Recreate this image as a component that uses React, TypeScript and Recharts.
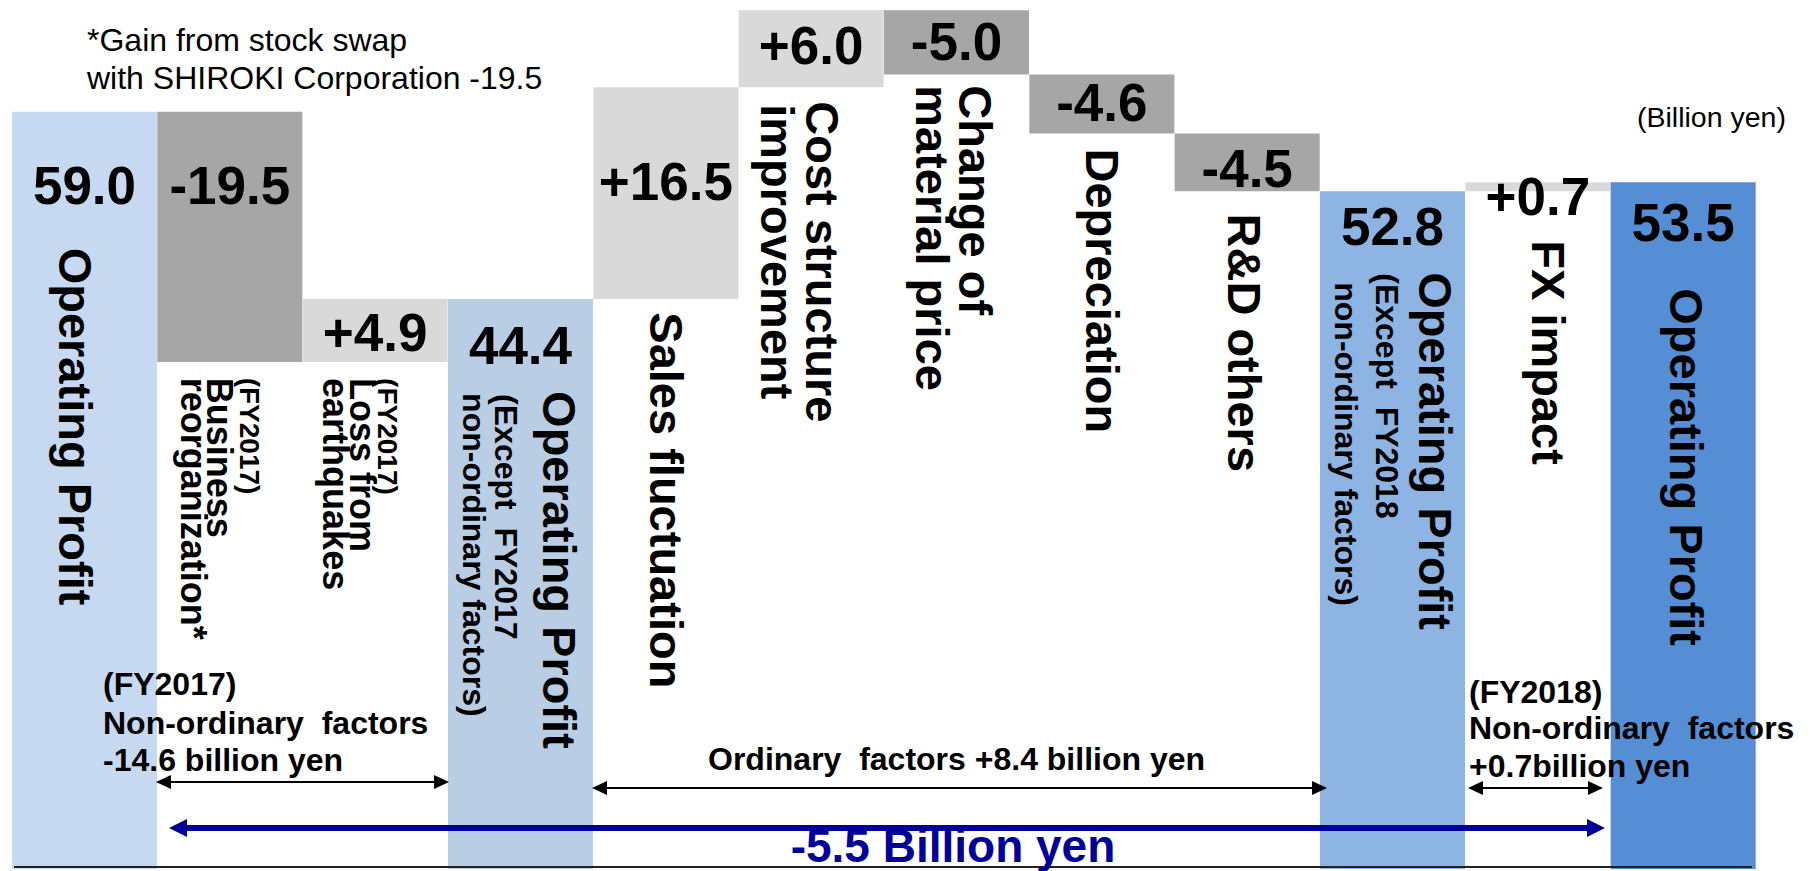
import React from 'react';
import { BarChart, Bar, XAxis, YAxis, Cell, LabelList } from 'recharts';

const categories = [
  'Operating Profit (FY2017)',
  'Business reorganization',
  'Loss from earthquakes',
  'Operating Profit (Except FY2017 non-ordinary factors)',
  'Sales fluctuation',
  'Cost structure improvement',
  'Change of material price',
  'Depreciation',
  'R&D others',
  'Operating Profit (Except FY2018 non-ordinary factors)',
  'FX impact',
  'Operating Profit (FY2018)',
];

const values = [59.0, -19.5, 4.9, 44.4, 16.5, 6.0, -5.0, -4.6, -4.5, 52.8, 0.7, 53.5];
const isTotal = [true, false, false, true, false, false, false, false, false, true, false, true];
const valueLabels = ['59.0', '-19.5', '+4.9', '44.4', '+16.5', '+6.0', '-5.0', '-4.6', '-4.5', '52.8', '+0.7', '53.5'];

const categoryLines: string[][] = [
  ['Operating Profit'],
  ['(FY2017)', 'Business', 'reorganization*'],
  ['(FY2017)', 'Loss from', 'earthquakes'],
  ['Operating Profit', '(Except  FY2017', 'non-ordinary factors)'],
  ['Sales fluctuation'],
  ['Cost structure', 'improvement'],
  ['Change of', 'material price'],
  ['Depreciation'],
  ['R&D others'],
  ['Operating Profit', '(Except  FY2018', 'non-ordinary factors)'],
  ['FX impact'],
  ['Operating Profit'],
];

const barColors = ['#c6d9f1', '#a6a6a6', '#d9d9d9', '#b9cde5', '#d9d9d9', '#d9d9d9', '#a6a6a6', '#a6a6a6', '#a6a6a6', '#8eb4e3', '#d9d9d9', '#558ed5'];

// label layout (offsets from the bar rectangle)
const valueDy = [92, 92, 52, 65, 113, 54, 50, 47, 54, 54, 33, 59];
const lineSize = [[47], [28, 36, 36], [28, 36, 36], [47, 32, 32], [47], [47, 47], [47, 47], [47], [47], [47, 32, 32], [47], [47]];
const lineDx = [[47], [83, 50, 24], [75, 47, 20], [95, 47, 15], [57], [67, 22], [75, 32], [57], [53], [99, 56, 15], [67], [59]];
const lineDy = [[136], [266, 266, 266], [79, 79, 79], [92, 95, 94], [225], [91, 94], [75, 75], [74], [80], [81, 82, 91], [58], [106]];

const FONT = '"Liberation Sans", Arial, sans-serif';
const BLUE = '#000099';

let running = 0;
const data = categories.map((name, i) => {
  const v = values[i];
  let base = 0;
  let delta = v;
  if (isTotal[i]) {
    running = v;
  } else {
    const next = running + v;
    base = Math.min(running, next);
    delta = Math.abs(v);
    running = next;
  }
  return { name, base, delta, label: valueLabels[i] };
});

const box = (props: any) => {
  const vb = props.viewBox || props;
  return { x: Number(vb.x), y: Number(vb.y), width: Number(vb.width) };
};

const renderValue = (props: any) => {
  const { x, y, width } = box(props);
  const i = props.index;
  return (
    <text x={x + width / 2} y={y + valueDy[i]} textAnchor="middle" fontSize={53} fontWeight="bold" fontFamily={FONT} fill="#000">
      {valueLabels[i]}
    </text>
  );
};

const renderCategory = (props: any) => {
  const { x, y } = box(props);
  const i = props.index;
  return (
    <g>
      {categoryLines[i].map((t, k) => (
        <text
          key={k}
          transform={`translate(${x + lineDx[i][k]},${y + lineDy[i][k]}) rotate(90)`}
          fontSize={lineSize[i][k]}
          fontWeight="bold"
          fontFamily={FONT}
          fill="#000"
          xmlSpace="preserve"
          style={{ whiteSpace: 'pre' }}
        >
          {t}
        </text>
      ))}
    </g>
  );
};

const DoubleArrow = ({ x1, x2, y, color, stroke, headL, headW }: any) => (
  <g>
    <line x1={x1 + headL - 1} x2={x2 - headL + 1} y1={y} y2={y} stroke={color} strokeWidth={stroke} />
    <polygon points={`${x1},${y} ${x1 + headL},${y - headW / 2} ${x1 + headL},${y + headW / 2}`} fill={color} />
    <polygon points={`${x2},${y} ${x2 - headL},${y - headW / 2} ${x2 - headL},${y + headW / 2}`} fill={color} />
  </g>
);

const Note = ({ children, ...rest }: any) => (
  <text xmlSpace="preserve" style={{ whiteSpace: 'pre' }} {...rest}>
    {children}
  </text>
);

const Overlay = () => (
  <svg width={1810} height={871} style={{ position: 'absolute', left: 0, top: 0, pointerEvents: 'none' }}>
    <g fontFamily={FONT}>
      <Note x={87} y={51} fontSize={32}>*Gain from stock swap</Note>
      <Note x={87} y={89} fontSize={32}>with SHIROKI Corporation -19.5</Note>
      <Note x={1637} y={127} fontSize={28.5}>(Billion yen)</Note>

      <g fontSize={32} fontWeight="bold">
        <Note x={103} y={695}>(FY2017)</Note>
        <Note x={103} y={734}>Non-ordinary  factors</Note>
        <Note x={103} y={771}>-14.6 billion yen</Note>
        <Note x={708} y={770}>Ordinary  factors +8.4 billion yen</Note>
        <Note x={1469} y={703}>(FY2018)</Note>
        <Note x={1469} y={739}>Non-ordinary  factors</Note>
        <Note x={1469} y={777}>+0.7billion yen</Note>
      </g>

      <DoubleArrow x1={156} x2={449} y={782} color="#000" stroke={2} headL={15} headW={14} />
      <DoubleArrow x1={592} x2={1327} y={788} color="#000" stroke={2} headL={15} headW={14} />
      <DoubleArrow x1={1468} x2={1603} y={788} color="#000" stroke={2} headL={15} headW={14} />
      <DoubleArrow x1={169} x2={1605} y={828} color={BLUE} stroke={6} headL={18} headW={18} />

      <line x1={14} x2={1752} y1={867} y2={867} stroke="#222" strokeWidth={2} />
      <Note x={953} y={862} textAnchor="middle" fontSize={46} fontWeight="bold" fill={BLUE}>-5.5 Billion yen</Note>
    </g>
  </svg>
);

export default function App() {
  return (
    <div style={{ position: 'absolute', left: 0, top: 0, width: 1810, height: 871, background: '#fff', overflow: 'hidden' }}>
      <BarChart
        width={1810}
        height={871}
        data={data}
        margin={{ top: 0, right: 54, bottom: 2, left: 12 }}
        barCategoryGap={0}
        barGap={0}
      >
        <XAxis dataKey="name" hide />
        <YAxis hide domain={[0, 67.7]} allowDataOverflow />
        <Bar dataKey="base" stackId="w" fill="transparent" isAnimationActive={false} />
        <Bar dataKey="delta" stackId="w" isAnimationActive={false}>
          {data.map((d, i) => (
            <Cell key={d.name} fill={barColors[i]} />
          ))}
          <LabelList dataKey="label" content={renderValue} />
          <LabelList dataKey="name" content={renderCategory} />
        </Bar>
      </BarChart>
      <Overlay />
    </div>
  );
}
